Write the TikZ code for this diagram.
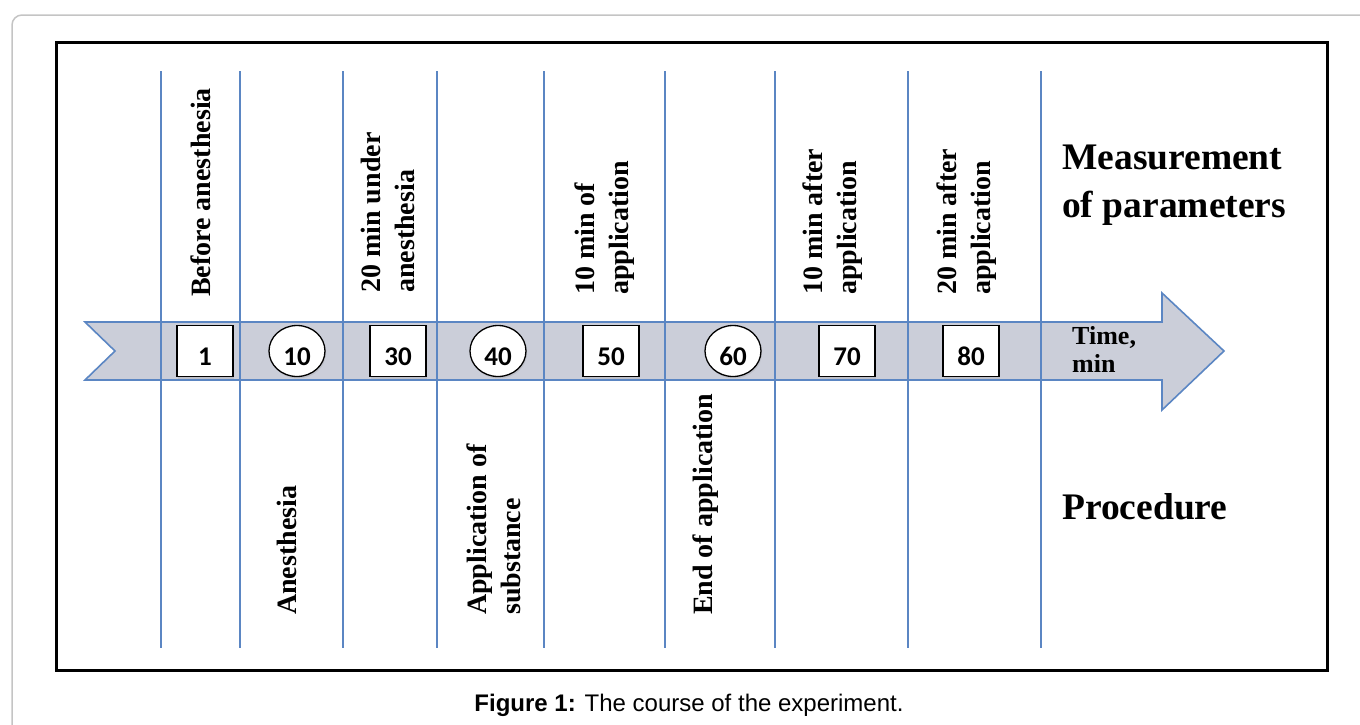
\documentclass[tikz,border=0pt]{standalone}
\usepackage{fontspec}
\setmainfont{Liberation Serif}
\newfontfamily\numfont{Carlito}[BoldFont={Carlito Bold}]
\newfontfamily\capfont{Liberation Sans}
\usetikzlibrary{shapes.geometric,shadows}
\definecolor{lineblue}{HTML}{5B86C3}
\definecolor{bandfill}{HTML}{CBCED9}
\definecolor{framegray}{HTML}{C4C4C4}
\begin{document}
\begin{tikzpicture}[x=1pt,y=-1pt,
  vline/.style={draw=lineblue, line width=1.6pt},
  marker/.style={draw=black, line width=1.3pt, fill=white, inner sep=0pt,
    minimum width=56pt, minimum height=51pt,
    font=\numfont\bfseries\fontsize{27}{27}\selectfont,
    text height=28pt, text depth=0pt,
    drop shadow={shadow xshift=1pt, shadow yshift=-2pt, opacity=0.18}},
  sqbox/.style={marker, rectangle},
  rdbox/.style={marker, ellipse},
  rlabel/.style={rotate=90, inner sep=0pt, anchor=north west, align=left,
    font=\bfseries\fontsize{28}{34}\selectfont},
  side/.style={inner sep=0pt, align=left, font=\bfseries\fontsize{37.5}{48}\selectfont}
]
\useasboundingbox (0,0) rectangle (1360,724);
% outer gray page frame
\draw[framegray, line width=1.5pt, rounded corners=10pt] (1362,15) -- (12,15) -- (12,726);
% black frame
\draw[line width=3pt] (56,42) rectangle (1327,670);
% time arrow band
\draw[fill=bandfill, draw=lineblue, line width=1.6pt, line join=miter]
  (85,322) -- (1162,322) -- (1162,293) -- (1224,351) -- (1162,410) -- (1162,380)
  -- (85,380) -- (115,351) -- cycle;
% vertical separators
\foreach \x in {161,240,343,437,544,665,775,908,1041}
  \draw[vline] (\x,71) -- (\x,648);
% markers
\node[sqbox] (b1)  at (205,351) {1};
\node[rdbox] (c10) at (297,351) {10};
\node[sqbox] (b30) at (398,351) {30};
\node[rdbox] (c40) at (498,351) {40};
\node[sqbox] (b50) at (611,351) {50};
\node[rdbox] (c60) at (733,351) {60};
\node[sqbox] (b70) at (847,351) {70};
\node[sqbox] (b80) at (971,351) {80};
% measurement labels (top)
\node[rlabel] (t1) at (191,297) {Before anesthesia};
\node[rlabel] (t2) at (361,293) {20 min under\\anesthesia};
\node[rlabel] (t3) at (575,295) {10 min of\\application};
\node[rlabel] (t4) at (803,295) {10 min after\\application};
\node[rlabel] (t5) at (937,295) {20 min after\\application};
% procedure labels (bottom)
\node[rlabel] (p1) at (277,615) {Anesthesia};
\node[rlabel] (p2) at (467,615) {Application of\\substance};
\node[rlabel] (p3) at (693,615) {End of application};
% side labels
\node[side, anchor=north west] (meas) at (1062,145) {Measurement\\of parameters};
\node[side, anchor=base west] (proc) at (1062,519) {Procedure};
\node[inner sep=0pt, anchor=north west, align=left,
  font=\bfseries\fontsize{26}{28}\selectfont] (time) at (1072,326) {Time,\\min};
% caption
\node[anchor=base, inner sep=0pt, font=\capfont\fontsize{24}{24}\selectfont] (cap)
  at (689,711) {\textbf{Figure 1:} The course of the experiment.};
\end{tikzpicture}
\end{document}
